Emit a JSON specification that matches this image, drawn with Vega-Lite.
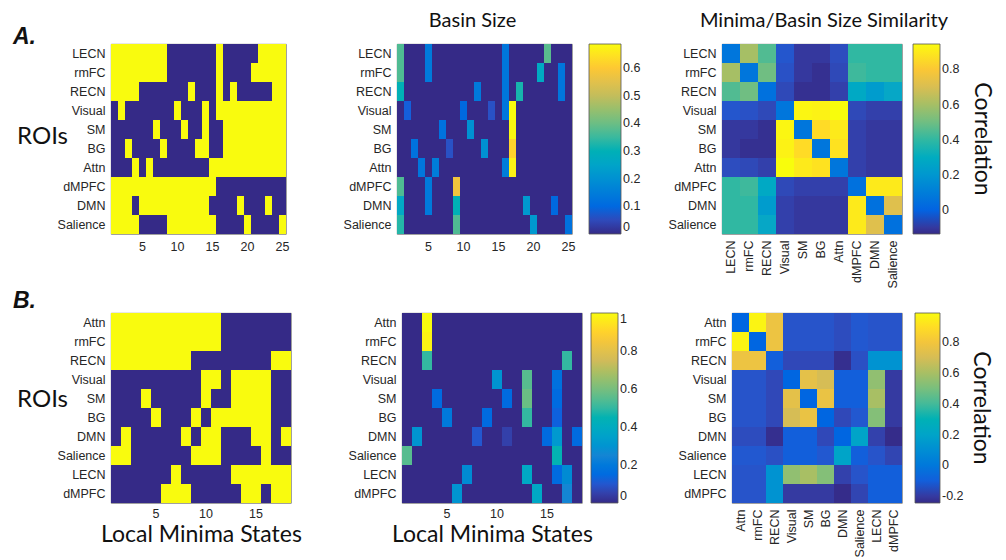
{
"$schema": "https://vega.github.io/schema/vega-lite/v6.json",
"background": "white",
"padding": {"left": 12, "top": 10, "right": 14, "bottom": 0},
"config": {
  "font": "Liberation Sans",
  "locale": {"number": {"decimal": ".", "thousands": ",", "grouping": [3], "currency": ["$", ""], "minus": "-"}},
  "view": {"stroke": "#6a6a6a", "strokeWidth": 0.8},
  "axis": {"labelFont": "Liberation Sans", "labelFontSize": 12.5, "labelColor": "#262626", "ticks": false, "domain": false, "grid": false, "labelPadding": 6, "titleFont": "Lato", "titleFontWeight": "normal", "titleColor": "#111111"},
  "legend": {"labelFont": "Liberation Sans", "labelFontSize": 12.5, "labelColor": "#262626", "padding": 0, "labelOverlap": false, "gradientStrokeColor": "#555555", "gradientStrokeWidth": 0.8, "direction": "vertical", "orient": "right", "labelBaseline": "middle"},
  "title": {"font": "Lato", "fontWeight": "normal", "fontSize": 20, "color": "#111111"}
},
"spacing": 0,
"resolve": {"scale": {"color": "independent", "x": "independent", "y": "independent"}, "legend": {"color": "independent"}},
"datasets": {
"a1": [
{"r":"LECN","s":1,"v":1},{"r":"LECN","s":2,"v":1},{"r":"LECN","s":3,"v":1},{"r":"LECN","s":4,"v":1},{"r":"LECN","s":5,"v":1},{"r":"LECN","s":6,"v":1},{"r":"LECN","s":7,"v":1},{"r":"LECN","s":8,"v":1},{"r":"LECN","s":9,"v":0},{"r":"LECN","s":10,"v":0},{"r":"LECN","s":11,"v":0},{"r":"LECN","s":12,"v":0},{"r":"LECN","s":13,"v":0},{"r":"LECN","s":14,"v":0},{"r":"LECN","s":15,"v":0},{"r":"LECN","s":16,"v":1},{"r":"LECN","s":17,"v":0},{"r":"LECN","s":18,"v":0},{"r":"LECN","s":19,"v":0},{"r":"LECN","s":20,"v":0},{"r":"LECN","s":21,"v":0},{"r":"LECN","s":22,"v":1},{"r":"LECN","s":23,"v":1},{"r":"LECN","s":24,"v":1},{"r":"LECN","s":25,"v":1},
{"r":"rmFC","s":1,"v":1},{"r":"rmFC","s":2,"v":1},{"r":"rmFC","s":3,"v":1},{"r":"rmFC","s":4,"v":1},{"r":"rmFC","s":5,"v":1},{"r":"rmFC","s":6,"v":1},{"r":"rmFC","s":7,"v":1},{"r":"rmFC","s":8,"v":1},{"r":"rmFC","s":9,"v":0},{"r":"rmFC","s":10,"v":0},{"r":"rmFC","s":11,"v":0},{"r":"rmFC","s":12,"v":0},{"r":"rmFC","s":13,"v":0},{"r":"rmFC","s":14,"v":0},{"r":"rmFC","s":15,"v":0},{"r":"rmFC","s":16,"v":1},{"r":"rmFC","s":17,"v":0},{"r":"rmFC","s":18,"v":0},{"r":"rmFC","s":19,"v":0},{"r":"rmFC","s":20,"v":0},{"r":"rmFC","s":21,"v":1},{"r":"rmFC","s":22,"v":1},{"r":"rmFC","s":23,"v":1},{"r":"rmFC","s":24,"v":1},{"r":"rmFC","s":25,"v":1},
{"r":"RECN","s":1,"v":1},{"r":"RECN","s":2,"v":1},{"r":"RECN","s":3,"v":1},{"r":"RECN","s":4,"v":1},{"r":"RECN","s":5,"v":0},{"r":"RECN","s":6,"v":0},{"r":"RECN","s":7,"v":0},{"r":"RECN","s":8,"v":0},{"r":"RECN","s":9,"v":0},{"r":"RECN","s":10,"v":0},{"r":"RECN","s":11,"v":0},{"r":"RECN","s":12,"v":1},{"r":"RECN","s":13,"v":0},{"r":"RECN","s":14,"v":0},{"r":"RECN","s":15,"v":0},{"r":"RECN","s":16,"v":1},{"r":"RECN","s":17,"v":0},{"r":"RECN","s":18,"v":1},{"r":"RECN","s":19,"v":0},{"r":"RECN","s":20,"v":0},{"r":"RECN","s":21,"v":0},{"r":"RECN","s":22,"v":0},{"r":"RECN","s":23,"v":0},{"r":"RECN","s":24,"v":1},{"r":"RECN","s":25,"v":1},
{"r":"Visual","s":1,"v":0},{"r":"Visual","s":2,"v":1},{"r":"Visual","s":3,"v":0},{"r":"Visual","s":4,"v":0},{"r":"Visual","s":5,"v":0},{"r":"Visual","s":6,"v":0},{"r":"Visual","s":7,"v":0},{"r":"Visual","s":8,"v":0},{"r":"Visual","s":9,"v":0},{"r":"Visual","s":10,"v":1},{"r":"Visual","s":11,"v":0},{"r":"Visual","s":12,"v":0},{"r":"Visual","s":13,"v":0},{"r":"Visual","s":14,"v":1},{"r":"Visual","s":15,"v":0},{"r":"Visual","s":16,"v":1},{"r":"Visual","s":17,"v":1},{"r":"Visual","s":18,"v":1},{"r":"Visual","s":19,"v":1},{"r":"Visual","s":20,"v":1},{"r":"Visual","s":21,"v":1},{"r":"Visual","s":22,"v":1},{"r":"Visual","s":23,"v":1},{"r":"Visual","s":24,"v":1},{"r":"Visual","s":25,"v":1},
{"r":"SM","s":1,"v":0},{"r":"SM","s":2,"v":0},{"r":"SM","s":3,"v":0},{"r":"SM","s":4,"v":0},{"r":"SM","s":5,"v":0},{"r":"SM","s":6,"v":0},{"r":"SM","s":7,"v":1},{"r":"SM","s":8,"v":0},{"r":"SM","s":9,"v":0},{"r":"SM","s":10,"v":0},{"r":"SM","s":11,"v":1},{"r":"SM","s":12,"v":0},{"r":"SM","s":13,"v":0},{"r":"SM","s":14,"v":1},{"r":"SM","s":15,"v":0},{"r":"SM","s":16,"v":0},{"r":"SM","s":17,"v":1},{"r":"SM","s":18,"v":1},{"r":"SM","s":19,"v":1},{"r":"SM","s":20,"v":1},{"r":"SM","s":21,"v":1},{"r":"SM","s":22,"v":1},{"r":"SM","s":23,"v":1},{"r":"SM","s":24,"v":1},{"r":"SM","s":25,"v":1},
{"r":"BG","s":1,"v":0},{"r":"BG","s":2,"v":0},{"r":"BG","s":3,"v":1},{"r":"BG","s":4,"v":0},{"r":"BG","s":5,"v":0},{"r":"BG","s":6,"v":0},{"r":"BG","s":7,"v":0},{"r":"BG","s":8,"v":1},{"r":"BG","s":9,"v":0},{"r":"BG","s":10,"v":0},{"r":"BG","s":11,"v":0},{"r":"BG","s":12,"v":0},{"r":"BG","s":13,"v":1},{"r":"BG","s":14,"v":1},{"r":"BG","s":15,"v":0},{"r":"BG","s":16,"v":0},{"r":"BG","s":17,"v":1},{"r":"BG","s":18,"v":1},{"r":"BG","s":19,"v":1},{"r":"BG","s":20,"v":1},{"r":"BG","s":21,"v":1},{"r":"BG","s":22,"v":1},{"r":"BG","s":23,"v":1},{"r":"BG","s":24,"v":1},{"r":"BG","s":25,"v":1},
{"r":"Attn","s":1,"v":0},{"r":"Attn","s":2,"v":0},{"r":"Attn","s":3,"v":0},{"r":"Attn","s":4,"v":1},{"r":"Attn","s":5,"v":0},{"r":"Attn","s":6,"v":1},{"r":"Attn","s":7,"v":0},{"r":"Attn","s":8,"v":0},{"r":"Attn","s":9,"v":0},{"r":"Attn","s":10,"v":0},{"r":"Attn","s":11,"v":0},{"r":"Attn","s":12,"v":0},{"r":"Attn","s":13,"v":0},{"r":"Attn","s":14,"v":0},{"r":"Attn","s":15,"v":1},{"r":"Attn","s":16,"v":1},{"r":"Attn","s":17,"v":1},{"r":"Attn","s":18,"v":1},{"r":"Attn","s":19,"v":1},{"r":"Attn","s":20,"v":1},{"r":"Attn","s":21,"v":1},{"r":"Attn","s":22,"v":1},{"r":"Attn","s":23,"v":1},{"r":"Attn","s":24,"v":1},{"r":"Attn","s":25,"v":1},
{"r":"dMPFC","s":1,"v":1},{"r":"dMPFC","s":2,"v":1},{"r":"dMPFC","s":3,"v":1},{"r":"dMPFC","s":4,"v":1},{"r":"dMPFC","s":5,"v":1},{"r":"dMPFC","s":6,"v":1},{"r":"dMPFC","s":7,"v":1},{"r":"dMPFC","s":8,"v":1},{"r":"dMPFC","s":9,"v":1},{"r":"dMPFC","s":10,"v":1},{"r":"dMPFC","s":11,"v":1},{"r":"dMPFC","s":12,"v":1},{"r":"dMPFC","s":13,"v":1},{"r":"dMPFC","s":14,"v":1},{"r":"dMPFC","s":15,"v":1},{"r":"dMPFC","s":16,"v":0},{"r":"dMPFC","s":17,"v":0},{"r":"dMPFC","s":18,"v":0},{"r":"dMPFC","s":19,"v":0},{"r":"dMPFC","s":20,"v":0},{"r":"dMPFC","s":21,"v":0},{"r":"dMPFC","s":22,"v":0},{"r":"dMPFC","s":23,"v":0},{"r":"dMPFC","s":24,"v":0},{"r":"dMPFC","s":25,"v":0},
{"r":"DMN","s":1,"v":1},{"r":"DMN","s":2,"v":1},{"r":"DMN","s":3,"v":1},{"r":"DMN","s":4,"v":0},{"r":"DMN","s":5,"v":1},{"r":"DMN","s":6,"v":1},{"r":"DMN","s":7,"v":1},{"r":"DMN","s":8,"v":1},{"r":"DMN","s":9,"v":1},{"r":"DMN","s":10,"v":1},{"r":"DMN","s":11,"v":1},{"r":"DMN","s":12,"v":1},{"r":"DMN","s":13,"v":1},{"r":"DMN","s":14,"v":1},{"r":"DMN","s":15,"v":0},{"r":"DMN","s":16,"v":0},{"r":"DMN","s":17,"v":0},{"r":"DMN","s":18,"v":0},{"r":"DMN","s":19,"v":1},{"r":"DMN","s":20,"v":0},{"r":"DMN","s":21,"v":0},{"r":"DMN","s":22,"v":0},{"r":"DMN","s":23,"v":1},{"r":"DMN","s":24,"v":0},{"r":"DMN","s":25,"v":0},
{"r":"Salience","s":1,"v":1},{"r":"Salience","s":2,"v":1},{"r":"Salience","s":3,"v":1},{"r":"Salience","s":4,"v":1},{"r":"Salience","s":5,"v":0},{"r":"Salience","s":6,"v":0},{"r":"Salience","s":7,"v":0},{"r":"Salience","s":8,"v":0},{"r":"Salience","s":9,"v":1},{"r":"Salience","s":10,"v":1},{"r":"Salience","s":11,"v":1},{"r":"Salience","s":12,"v":1},{"r":"Salience","s":13,"v":1},{"r":"Salience","s":14,"v":1},{"r":"Salience","s":15,"v":1},{"r":"Salience","s":16,"v":0},{"r":"Salience","s":17,"v":0},{"r":"Salience","s":18,"v":0},{"r":"Salience","s":19,"v":0},{"r":"Salience","s":20,"v":1},{"r":"Salience","s":21,"v":0},{"r":"Salience","s":22,"v":0},{"r":"Salience","s":23,"v":0},{"r":"Salience","s":24,"v":0},{"r":"Salience","s":25,"v":1}
],
"a2": [
{"r":"LECN","s":1,"v":0.37},{"r":"LECN","s":2,"v":0},{"r":"LECN","s":3,"v":0},{"r":"LECN","s":4,"v":0},{"r":"LECN","s":5,"v":0.14},{"r":"LECN","s":6,"v":0},{"r":"LECN","s":7,"v":0},{"r":"LECN","s":8,"v":0},{"r":"LECN","s":9,"v":0},{"r":"LECN","s":10,"v":0},{"r":"LECN","s":11,"v":0},{"r":"LECN","s":12,"v":0},{"r":"LECN","s":13,"v":0},{"r":"LECN","s":14,"v":0},{"r":"LECN","s":15,"v":0},{"r":"LECN","s":16,"v":0.13},{"r":"LECN","s":17,"v":0},{"r":"LECN","s":18,"v":0},{"r":"LECN","s":19,"v":0},{"r":"LECN","s":20,"v":0},{"r":"LECN","s":21,"v":0},{"r":"LECN","s":22,"v":0.38},{"r":"LECN","s":23,"v":0},{"r":"LECN","s":24,"v":0},{"r":"LECN","s":25,"v":0},
{"r":"rmFC","s":1,"v":0.37},{"r":"rmFC","s":2,"v":0},{"r":"rmFC","s":3,"v":0},{"r":"rmFC","s":4,"v":0},{"r":"rmFC","s":5,"v":0.14},{"r":"rmFC","s":6,"v":0},{"r":"rmFC","s":7,"v":0},{"r":"rmFC","s":8,"v":0},{"r":"rmFC","s":9,"v":0},{"r":"rmFC","s":10,"v":0},{"r":"rmFC","s":11,"v":0},{"r":"rmFC","s":12,"v":0},{"r":"rmFC","s":13,"v":0},{"r":"rmFC","s":14,"v":0},{"r":"rmFC","s":15,"v":0},{"r":"rmFC","s":16,"v":0.13},{"r":"rmFC","s":17,"v":0},{"r":"rmFC","s":18,"v":0},{"r":"rmFC","s":19,"v":0},{"r":"rmFC","s":20,"v":0},{"r":"rmFC","s":21,"v":0.27},{"r":"rmFC","s":22,"v":0},{"r":"rmFC","s":23,"v":0},{"r":"rmFC","s":24,"v":0.13},{"r":"rmFC","s":25,"v":0},
{"r":"RECN","s":1,"v":0.3},{"r":"RECN","s":2,"v":0},{"r":"RECN","s":3,"v":0},{"r":"RECN","s":4,"v":0},{"r":"RECN","s":5,"v":0},{"r":"RECN","s":6,"v":0},{"r":"RECN","s":7,"v":0},{"r":"RECN","s":8,"v":0},{"r":"RECN","s":9,"v":0},{"r":"RECN","s":10,"v":0},{"r":"RECN","s":11,"v":0},{"r":"RECN","s":12,"v":0.14},{"r":"RECN","s":13,"v":0},{"r":"RECN","s":14,"v":0},{"r":"RECN","s":15,"v":0},{"r":"RECN","s":16,"v":0.13},{"r":"RECN","s":17,"v":0},{"r":"RECN","s":18,"v":0.32},{"r":"RECN","s":19,"v":0},{"r":"RECN","s":20,"v":0},{"r":"RECN","s":21,"v":0},{"r":"RECN","s":22,"v":0},{"r":"RECN","s":23,"v":0},{"r":"RECN","s":24,"v":0.13},{"r":"RECN","s":25,"v":0},
{"r":"Visual","s":1,"v":0},{"r":"Visual","s":2,"v":0.08},{"r":"Visual","s":3,"v":0},{"r":"Visual","s":4,"v":0},{"r":"Visual","s":5,"v":0},{"r":"Visual","s":6,"v":0},{"r":"Visual","s":7,"v":0},{"r":"Visual","s":8,"v":0},{"r":"Visual","s":9,"v":0},{"r":"Visual","s":10,"v":0.1},{"r":"Visual","s":11,"v":0},{"r":"Visual","s":12,"v":0},{"r":"Visual","s":13,"v":0},{"r":"Visual","s":14,"v":0.06},{"r":"Visual","s":15,"v":0},{"r":"Visual","s":16,"v":0.13},{"r":"Visual","s":17,"v":0.687},{"r":"Visual","s":18,"v":0},{"r":"Visual","s":19,"v":0},{"r":"Visual","s":20,"v":0},{"r":"Visual","s":21,"v":0},{"r":"Visual","s":22,"v":0},{"r":"Visual","s":23,"v":0},{"r":"Visual","s":24,"v":0},{"r":"Visual","s":25,"v":0},
{"r":"SM","s":1,"v":0},{"r":"SM","s":2,"v":0},{"r":"SM","s":3,"v":0},{"r":"SM","s":4,"v":0},{"r":"SM","s":5,"v":0},{"r":"SM","s":6,"v":0},{"r":"SM","s":7,"v":0.12},{"r":"SM","s":8,"v":0},{"r":"SM","s":9,"v":0},{"r":"SM","s":10,"v":0},{"r":"SM","s":11,"v":0.2},{"r":"SM","s":12,"v":0},{"r":"SM","s":13,"v":0},{"r":"SM","s":14,"v":0},{"r":"SM","s":15,"v":0},{"r":"SM","s":16,"v":0},{"r":"SM","s":17,"v":0.68},{"r":"SM","s":18,"v":0},{"r":"SM","s":19,"v":0},{"r":"SM","s":20,"v":0},{"r":"SM","s":21,"v":0},{"r":"SM","s":22,"v":0},{"r":"SM","s":23,"v":0},{"r":"SM","s":24,"v":0},{"r":"SM","s":25,"v":0},
{"r":"BG","s":1,"v":0},{"r":"BG","s":2,"v":0},{"r":"BG","s":3,"v":0.12},{"r":"BG","s":4,"v":0},{"r":"BG","s":5,"v":0},{"r":"BG","s":6,"v":0},{"r":"BG","s":7,"v":0},{"r":"BG","s":8,"v":0.06},{"r":"BG","s":9,"v":0},{"r":"BG","s":10,"v":0},{"r":"BG","s":11,"v":0},{"r":"BG","s":12,"v":0},{"r":"BG","s":13,"v":0.2},{"r":"BG","s":14,"v":0},{"r":"BG","s":15,"v":0},{"r":"BG","s":16,"v":0},{"r":"BG","s":17,"v":0.62},{"r":"BG","s":18,"v":0},{"r":"BG","s":19,"v":0},{"r":"BG","s":20,"v":0},{"r":"BG","s":21,"v":0},{"r":"BG","s":22,"v":0},{"r":"BG","s":23,"v":0},{"r":"BG","s":24,"v":0},{"r":"BG","s":25,"v":0},
{"r":"Attn","s":1,"v":0},{"r":"Attn","s":2,"v":0},{"r":"Attn","s":3,"v":0},{"r":"Attn","s":4,"v":0.13},{"r":"Attn","s":5,"v":0},{"r":"Attn","s":6,"v":0.15},{"r":"Attn","s":7,"v":0},{"r":"Attn","s":8,"v":0},{"r":"Attn","s":9,"v":0},{"r":"Attn","s":10,"v":0},{"r":"Attn","s":11,"v":0},{"r":"Attn","s":12,"v":0},{"r":"Attn","s":13,"v":0},{"r":"Attn","s":14,"v":0},{"r":"Attn","s":15,"v":0},{"r":"Attn","s":16,"v":0.15},{"r":"Attn","s":17,"v":0.67},{"r":"Attn","s":18,"v":0},{"r":"Attn","s":19,"v":0},{"r":"Attn","s":20,"v":0},{"r":"Attn","s":21,"v":0},{"r":"Attn","s":22,"v":0},{"r":"Attn","s":23,"v":0},{"r":"Attn","s":24,"v":0},{"r":"Attn","s":25,"v":0},
{"r":"dMPFC","s":1,"v":0.37},{"r":"dMPFC","s":2,"v":0},{"r":"dMPFC","s":3,"v":0},{"r":"dMPFC","s":4,"v":0},{"r":"dMPFC","s":5,"v":0.14},{"r":"dMPFC","s":6,"v":0},{"r":"dMPFC","s":7,"v":0},{"r":"dMPFC","s":8,"v":0},{"r":"dMPFC","s":9,"v":0.58},{"r":"dMPFC","s":10,"v":0},{"r":"dMPFC","s":11,"v":0},{"r":"dMPFC","s":12,"v":0},{"r":"dMPFC","s":13,"v":0},{"r":"dMPFC","s":14,"v":0},{"r":"dMPFC","s":15,"v":0},{"r":"dMPFC","s":16,"v":0},{"r":"dMPFC","s":17,"v":0},{"r":"dMPFC","s":18,"v":0},{"r":"dMPFC","s":19,"v":0},{"r":"dMPFC","s":20,"v":0},{"r":"dMPFC","s":21,"v":0},{"r":"dMPFC","s":22,"v":0},{"r":"dMPFC","s":23,"v":0},{"r":"dMPFC","s":24,"v":0},{"r":"dMPFC","s":25,"v":0},
{"r":"DMN","s":1,"v":0.26},{"r":"DMN","s":2,"v":0},{"r":"DMN","s":3,"v":0},{"r":"DMN","s":4,"v":0},{"r":"DMN","s":5,"v":0.14},{"r":"DMN","s":6,"v":0},{"r":"DMN","s":7,"v":0},{"r":"DMN","s":8,"v":0},{"r":"DMN","s":9,"v":0.3},{"r":"DMN","s":10,"v":0},{"r":"DMN","s":11,"v":0},{"r":"DMN","s":12,"v":0},{"r":"DMN","s":13,"v":0},{"r":"DMN","s":14,"v":0},{"r":"DMN","s":15,"v":0},{"r":"DMN","s":16,"v":0},{"r":"DMN","s":17,"v":0},{"r":"DMN","s":18,"v":0},{"r":"DMN","s":19,"v":0.22},{"r":"DMN","s":20,"v":0},{"r":"DMN","s":21,"v":0},{"r":"DMN","s":22,"v":0},{"r":"DMN","s":23,"v":0.1},{"r":"DMN","s":24,"v":0},{"r":"DMN","s":25,"v":0},
{"r":"Salience","s":1,"v":0.33},{"r":"Salience","s":2,"v":0},{"r":"Salience","s":3,"v":0},{"r":"Salience","s":4,"v":0},{"r":"Salience","s":5,"v":0},{"r":"Salience","s":6,"v":0},{"r":"Salience","s":7,"v":0},{"r":"Salience","s":8,"v":0},{"r":"Salience","s":9,"v":0.37},{"r":"Salience","s":10,"v":0},{"r":"Salience","s":11,"v":0},{"r":"Salience","s":12,"v":0},{"r":"Salience","s":13,"v":0},{"r":"Salience","s":14,"v":0},{"r":"Salience","s":15,"v":0},{"r":"Salience","s":16,"v":0},{"r":"Salience","s":17,"v":0},{"r":"Salience","s":18,"v":0},{"r":"Salience","s":19,"v":0},{"r":"Salience","s":20,"v":0.22},{"r":"Salience","s":21,"v":0},{"r":"Salience","s":22,"v":0},{"r":"Salience","s":23,"v":0},{"r":"Salience","s":24,"v":0},{"r":"Salience","s":25,"v":0.12}
],
"a3": [
{"r":"LECN","c":"LECN","v":0.07},{"r":"LECN","c":"rmFC","v":0.6},{"r":"LECN","c":"RECN","v":0.45},{"r":"LECN","c":"Visual","v":-0.03},{"r":"LECN","c":"SM","v":-0.1},{"r":"LECN","c":"BG","v":-0.1},{"r":"LECN","c":"Attn","v":-0.05},{"r":"LECN","c":"dMPFC","v":0.4},{"r":"LECN","c":"DMN","v":0.4},{"r":"LECN","c":"Salience","v":0.4},
{"r":"rmFC","c":"LECN","v":0.6},{"r":"rmFC","c":"rmFC","v":0.07},{"r":"rmFC","c":"RECN","v":0.5},{"r":"rmFC","c":"Visual","v":-0.04},{"r":"rmFC","c":"SM","v":-0.1},{"r":"rmFC","c":"BG","v":-0.12},{"r":"rmFC","c":"Attn","v":-0.06},{"r":"rmFC","c":"dMPFC","v":0.42},{"r":"rmFC","c":"DMN","v":0.4},{"r":"rmFC","c":"Salience","v":0.4},
{"r":"RECN","c":"LECN","v":0.45},{"r":"RECN","c":"rmFC","v":0.5},{"r":"RECN","c":"RECN","v":0.05},{"r":"RECN","c":"Visual","v":-0.06},{"r":"RECN","c":"SM","v":-0.12},{"r":"RECN","c":"BG","v":-0.12},{"r":"RECN","c":"Attn","v":-0.08},{"r":"RECN","c":"dMPFC","v":0.28},{"r":"RECN","c":"DMN","v":0.22},{"r":"RECN","c":"Salience","v":0.27},
{"r":"Visual","c":"LECN","v":-0.03},{"r":"Visual","c":"rmFC","v":-0.04},{"r":"Visual","c":"RECN","v":-0.06},{"r":"Visual","c":"Visual","v":0.07},{"r":"Visual","c":"SM","v":0.93},{"r":"Visual","c":"BG","v":0.92},{"r":"Visual","c":"Attn","v":0.95},{"r":"Visual","c":"dMPFC","v":-0.06},{"r":"Visual","c":"DMN","v":-0.08},{"r":"Visual","c":"Salience","v":-0.08},
{"r":"SM","c":"LECN","v":-0.1},{"r":"SM","c":"rmFC","v":-0.1},{"r":"SM","c":"RECN","v":-0.12},{"r":"SM","c":"Visual","v":0.93},{"r":"SM","c":"SM","v":0.07},{"r":"SM","c":"BG","v":0.86},{"r":"SM","c":"Attn","v":0.9},{"r":"SM","c":"dMPFC","v":-0.08},{"r":"SM","c":"DMN","v":-0.1},{"r":"SM","c":"Salience","v":-0.1},
{"r":"BG","c":"LECN","v":-0.1},{"r":"BG","c":"rmFC","v":-0.12},{"r":"BG","c":"RECN","v":-0.12},{"r":"BG","c":"Visual","v":0.92},{"r":"BG","c":"SM","v":0.86},{"r":"BG","c":"BG","v":0.07},{"r":"BG","c":"Attn","v":0.88},{"r":"BG","c":"dMPFC","v":-0.08},{"r":"BG","c":"DMN","v":-0.1},{"r":"BG","c":"Salience","v":-0.1},
{"r":"Attn","c":"LECN","v":-0.05},{"r":"Attn","c":"rmFC","v":-0.06},{"r":"Attn","c":"RECN","v":-0.08},{"r":"Attn","c":"Visual","v":0.95},{"r":"Attn","c":"SM","v":0.9},{"r":"Attn","c":"BG","v":0.88},{"r":"Attn","c":"Attn","v":0.07},{"r":"Attn","c":"dMPFC","v":-0.08},{"r":"Attn","c":"DMN","v":-0.1},{"r":"Attn","c":"Salience","v":-0.1},
{"r":"dMPFC","c":"LECN","v":0.4},{"r":"dMPFC","c":"rmFC","v":0.42},{"r":"dMPFC","c":"RECN","v":0.28},{"r":"dMPFC","c":"Visual","v":-0.06},{"r":"dMPFC","c":"SM","v":-0.08},{"r":"dMPFC","c":"BG","v":-0.08},{"r":"dMPFC","c":"Attn","v":-0.08},{"r":"dMPFC","c":"dMPFC","v":0.05},{"r":"dMPFC","c":"DMN","v":0.9},{"r":"dMPFC","c":"Salience","v":0.9},
{"r":"DMN","c":"LECN","v":0.4},{"r":"DMN","c":"rmFC","v":0.4},{"r":"DMN","c":"RECN","v":0.22},{"r":"DMN","c":"Visual","v":-0.08},{"r":"DMN","c":"SM","v":-0.1},{"r":"DMN","c":"BG","v":-0.1},{"r":"DMN","c":"Attn","v":-0.1},{"r":"DMN","c":"dMPFC","v":0.9},{"r":"DMN","c":"DMN","v":0.05},{"r":"DMN","c":"Salience","v":0.72},
{"r":"Salience","c":"LECN","v":0.4},{"r":"Salience","c":"rmFC","v":0.4},{"r":"Salience","c":"RECN","v":0.27},{"r":"Salience","c":"Visual","v":-0.08},{"r":"Salience","c":"SM","v":-0.1},{"r":"Salience","c":"BG","v":-0.1},{"r":"Salience","c":"Attn","v":-0.1},{"r":"Salience","c":"dMPFC","v":0.9},{"r":"Salience","c":"DMN","v":0.72},{"r":"Salience","c":"Salience","v":0.05}
],
"b1": [
{"r":"Attn","s":1,"v":1},{"r":"Attn","s":2,"v":1},{"r":"Attn","s":3,"v":1},{"r":"Attn","s":4,"v":1},{"r":"Attn","s":5,"v":1},{"r":"Attn","s":6,"v":1},{"r":"Attn","s":7,"v":1},{"r":"Attn","s":8,"v":1},{"r":"Attn","s":9,"v":1},{"r":"Attn","s":10,"v":1},{"r":"Attn","s":11,"v":1},{"r":"Attn","s":12,"v":0},{"r":"Attn","s":13,"v":0},{"r":"Attn","s":14,"v":0},{"r":"Attn","s":15,"v":0},{"r":"Attn","s":16,"v":0},{"r":"Attn","s":17,"v":0},{"r":"Attn","s":18,"v":0},
{"r":"rmFC","s":1,"v":1},{"r":"rmFC","s":2,"v":1},{"r":"rmFC","s":3,"v":1},{"r":"rmFC","s":4,"v":1},{"r":"rmFC","s":5,"v":1},{"r":"rmFC","s":6,"v":1},{"r":"rmFC","s":7,"v":1},{"r":"rmFC","s":8,"v":1},{"r":"rmFC","s":9,"v":1},{"r":"rmFC","s":10,"v":1},{"r":"rmFC","s":11,"v":1},{"r":"rmFC","s":12,"v":0},{"r":"rmFC","s":13,"v":0},{"r":"rmFC","s":14,"v":0},{"r":"rmFC","s":15,"v":0},{"r":"rmFC","s":16,"v":0},{"r":"rmFC","s":17,"v":0},{"r":"rmFC","s":18,"v":0},
{"r":"RECN","s":1,"v":1},{"r":"RECN","s":2,"v":1},{"r":"RECN","s":3,"v":1},{"r":"RECN","s":4,"v":1},{"r":"RECN","s":5,"v":1},{"r":"RECN","s":6,"v":1},{"r":"RECN","s":7,"v":1},{"r":"RECN","s":8,"v":1},{"r":"RECN","s":9,"v":0},{"r":"RECN","s":10,"v":0},{"r":"RECN","s":11,"v":0},{"r":"RECN","s":12,"v":0},{"r":"RECN","s":13,"v":0},{"r":"RECN","s":14,"v":0},{"r":"RECN","s":15,"v":0},{"r":"RECN","s":16,"v":0},{"r":"RECN","s":17,"v":1},{"r":"RECN","s":18,"v":1},
{"r":"Visual","s":1,"v":0},{"r":"Visual","s":2,"v":0},{"r":"Visual","s":3,"v":0},{"r":"Visual","s":4,"v":0},{"r":"Visual","s":5,"v":0},{"r":"Visual","s":6,"v":0},{"r":"Visual","s":7,"v":0},{"r":"Visual","s":8,"v":0},{"r":"Visual","s":9,"v":0},{"r":"Visual","s":10,"v":1},{"r":"Visual","s":11,"v":1},{"r":"Visual","s":12,"v":0},{"r":"Visual","s":13,"v":1},{"r":"Visual","s":14,"v":1},{"r":"Visual","s":15,"v":1},{"r":"Visual","s":16,"v":1},{"r":"Visual","s":17,"v":0},{"r":"Visual","s":18,"v":0},
{"r":"SM","s":1,"v":0},{"r":"SM","s":2,"v":0},{"r":"SM","s":3,"v":0},{"r":"SM","s":4,"v":1},{"r":"SM","s":5,"v":0},{"r":"SM","s":6,"v":0},{"r":"SM","s":7,"v":0},{"r":"SM","s":8,"v":0},{"r":"SM","s":9,"v":0},{"r":"SM","s":10,"v":1},{"r":"SM","s":11,"v":0},{"r":"SM","s":12,"v":0},{"r":"SM","s":13,"v":1},{"r":"SM","s":14,"v":1},{"r":"SM","s":15,"v":1},{"r":"SM","s":16,"v":1},{"r":"SM","s":17,"v":0},{"r":"SM","s":18,"v":0},
{"r":"BG","s":1,"v":0},{"r":"BG","s":2,"v":0},{"r":"BG","s":3,"v":0},{"r":"BG","s":4,"v":0},{"r":"BG","s":5,"v":1},{"r":"BG","s":6,"v":0},{"r":"BG","s":7,"v":0},{"r":"BG","s":8,"v":0},{"r":"BG","s":9,"v":1},{"r":"BG","s":10,"v":0},{"r":"BG","s":11,"v":1},{"r":"BG","s":12,"v":1},{"r":"BG","s":13,"v":1},{"r":"BG","s":14,"v":1},{"r":"BG","s":15,"v":1},{"r":"BG","s":16,"v":1},{"r":"BG","s":17,"v":0},{"r":"BG","s":18,"v":0},
{"r":"DMN","s":1,"v":0},{"r":"DMN","s":2,"v":1},{"r":"DMN","s":3,"v":0},{"r":"DMN","s":4,"v":0},{"r":"DMN","s":5,"v":0},{"r":"DMN","s":6,"v":0},{"r":"DMN","s":7,"v":0},{"r":"DMN","s":8,"v":1},{"r":"DMN","s":9,"v":0},{"r":"DMN","s":10,"v":1},{"r":"DMN","s":11,"v":1},{"r":"DMN","s":12,"v":0},{"r":"DMN","s":13,"v":0},{"r":"DMN","s":14,"v":0},{"r":"DMN","s":15,"v":1},{"r":"DMN","s":16,"v":1},{"r":"DMN","s":17,"v":0},{"r":"DMN","s":18,"v":1},
{"r":"Salience","s":1,"v":1},{"r":"Salience","s":2,"v":1},{"r":"Salience","s":3,"v":0},{"r":"Salience","s":4,"v":0},{"r":"Salience","s":5,"v":0},{"r":"Salience","s":6,"v":0},{"r":"Salience","s":7,"v":0},{"r":"Salience","s":8,"v":0},{"r":"Salience","s":9,"v":1},{"r":"Salience","s":10,"v":1},{"r":"Salience","s":11,"v":1},{"r":"Salience","s":12,"v":0},{"r":"Salience","s":13,"v":0},{"r":"Salience","s":14,"v":0},{"r":"Salience","s":15,"v":0},{"r":"Salience","s":16,"v":1},{"r":"Salience","s":17,"v":0},{"r":"Salience","s":18,"v":0},
{"r":"LECN","s":1,"v":0},{"r":"LECN","s":2,"v":0},{"r":"LECN","s":3,"v":0},{"r":"LECN","s":4,"v":0},{"r":"LECN","s":5,"v":0},{"r":"LECN","s":6,"v":0},{"r":"LECN","s":7,"v":1},{"r":"LECN","s":8,"v":0},{"r":"LECN","s":9,"v":0},{"r":"LECN","s":10,"v":0},{"r":"LECN","s":11,"v":0},{"r":"LECN","s":12,"v":0},{"r":"LECN","s":13,"v":1},{"r":"LECN","s":14,"v":1},{"r":"LECN","s":15,"v":1},{"r":"LECN","s":16,"v":1},{"r":"LECN","s":17,"v":1},{"r":"LECN","s":18,"v":1},
{"r":"dMPFC","s":1,"v":0},{"r":"dMPFC","s":2,"v":0},{"r":"dMPFC","s":3,"v":0},{"r":"dMPFC","s":4,"v":0},{"r":"dMPFC","s":5,"v":0},{"r":"dMPFC","s":6,"v":1},{"r":"dMPFC","s":7,"v":1},{"r":"dMPFC","s":8,"v":1},{"r":"dMPFC","s":9,"v":0},{"r":"dMPFC","s":10,"v":0},{"r":"dMPFC","s":11,"v":0},{"r":"dMPFC","s":12,"v":0},{"r":"dMPFC","s":13,"v":0},{"r":"dMPFC","s":14,"v":1},{"r":"dMPFC","s":15,"v":1},{"r":"dMPFC","s":16,"v":0},{"r":"dMPFC","s":17,"v":1},{"r":"dMPFC","s":18,"v":1}
],
"b2": [
{"r":"Attn","s":1,"v":0},{"r":"Attn","s":2,"v":0},{"r":"Attn","s":3,"v":1},{"r":"Attn","s":4,"v":0},{"r":"Attn","s":5,"v":0},{"r":"Attn","s":6,"v":0},{"r":"Attn","s":7,"v":0},{"r":"Attn","s":8,"v":0},{"r":"Attn","s":9,"v":0},{"r":"Attn","s":10,"v":0},{"r":"Attn","s":11,"v":0},{"r":"Attn","s":12,"v":0},{"r":"Attn","s":13,"v":0},{"r":"Attn","s":14,"v":0},{"r":"Attn","s":15,"v":0},{"r":"Attn","s":16,"v":0},{"r":"Attn","s":17,"v":0},{"r":"Attn","s":18,"v":0},
{"r":"rmFC","s":1,"v":0},{"r":"rmFC","s":2,"v":0},{"r":"rmFC","s":3,"v":0.98},{"r":"rmFC","s":4,"v":0},{"r":"rmFC","s":5,"v":0},{"r":"rmFC","s":6,"v":0},{"r":"rmFC","s":7,"v":0},{"r":"rmFC","s":8,"v":0},{"r":"rmFC","s":9,"v":0},{"r":"rmFC","s":10,"v":0},{"r":"rmFC","s":11,"v":0},{"r":"rmFC","s":12,"v":0},{"r":"rmFC","s":13,"v":0},{"r":"rmFC","s":14,"v":0},{"r":"rmFC","s":15,"v":0},{"r":"rmFC","s":16,"v":0},{"r":"rmFC","s":17,"v":0},{"r":"rmFC","s":18,"v":0},
{"r":"RECN","s":1,"v":0},{"r":"RECN","s":2,"v":0},{"r":"RECN","s":3,"v":0.5},{"r":"RECN","s":4,"v":0},{"r":"RECN","s":5,"v":0},{"r":"RECN","s":6,"v":0},{"r":"RECN","s":7,"v":0},{"r":"RECN","s":8,"v":0},{"r":"RECN","s":9,"v":0},{"r":"RECN","s":10,"v":0},{"r":"RECN","s":11,"v":0},{"r":"RECN","s":12,"v":0},{"r":"RECN","s":13,"v":0},{"r":"RECN","s":14,"v":0},{"r":"RECN","s":15,"v":0},{"r":"RECN","s":16,"v":0},{"r":"RECN","s":17,"v":0.5},{"r":"RECN","s":18,"v":0},
{"r":"Visual","s":1,"v":0},{"r":"Visual","s":2,"v":0},{"r":"Visual","s":3,"v":0},{"r":"Visual","s":4,"v":0},{"r":"Visual","s":5,"v":0},{"r":"Visual","s":6,"v":0},{"r":"Visual","s":7,"v":0},{"r":"Visual","s":8,"v":0},{"r":"Visual","s":9,"v":0},{"r":"Visual","s":10,"v":0.3},{"r":"Visual","s":11,"v":0},{"r":"Visual","s":12,"v":0},{"r":"Visual","s":13,"v":0.55},{"r":"Visual","s":14,"v":0},{"r":"Visual","s":15,"v":0},{"r":"Visual","s":16,"v":0.17},{"r":"Visual","s":17,"v":0},{"r":"Visual","s":18,"v":0},
{"r":"SM","s":1,"v":0},{"r":"SM","s":2,"v":0},{"r":"SM","s":3,"v":0},{"r":"SM","s":4,"v":0.15},{"r":"SM","s":5,"v":0},{"r":"SM","s":6,"v":0},{"r":"SM","s":7,"v":0},{"r":"SM","s":8,"v":0},{"r":"SM","s":9,"v":0},{"r":"SM","s":10,"v":0},{"r":"SM","s":11,"v":0.15},{"r":"SM","s":12,"v":0},{"r":"SM","s":13,"v":0.58},{"r":"SM","s":14,"v":0},{"r":"SM","s":15,"v":0},{"r":"SM","s":16,"v":0.15},{"r":"SM","s":17,"v":0},{"r":"SM","s":18,"v":0},
{"r":"BG","s":1,"v":0},{"r":"BG","s":2,"v":0},{"r":"BG","s":3,"v":0},{"r":"BG","s":4,"v":0},{"r":"BG","s":5,"v":0.2},{"r":"BG","s":6,"v":0},{"r":"BG","s":7,"v":0},{"r":"BG","s":8,"v":0},{"r":"BG","s":9,"v":0.15},{"r":"BG","s":10,"v":0},{"r":"BG","s":11,"v":0},{"r":"BG","s":12,"v":0},{"r":"BG","s":13,"v":0.5},{"r":"BG","s":14,"v":0},{"r":"BG","s":15,"v":0},{"r":"BG","s":16,"v":0.12},{"r":"BG","s":17,"v":0},{"r":"BG","s":18,"v":0},
{"r":"DMN","s":1,"v":0},{"r":"DMN","s":2,"v":0.3},{"r":"DMN","s":3,"v":0},{"r":"DMN","s":4,"v":0},{"r":"DMN","s":5,"v":0},{"r":"DMN","s":6,"v":0},{"r":"DMN","s":7,"v":0},{"r":"DMN","s":8,"v":0.1},{"r":"DMN","s":9,"v":0},{"r":"DMN","s":10,"v":0},{"r":"DMN","s":11,"v":0.05},{"r":"DMN","s":12,"v":0},{"r":"DMN","s":13,"v":0},{"r":"DMN","s":14,"v":0},{"r":"DMN","s":15,"v":0.15},{"r":"DMN","s":16,"v":0.32},{"r":"DMN","s":17,"v":0},{"r":"DMN","s":18,"v":0.15},
{"r":"Salience","s":1,"v":0.55},{"r":"Salience","s":2,"v":0},{"r":"Salience","s":3,"v":0},{"r":"Salience","s":4,"v":0},{"r":"Salience","s":5,"v":0},{"r":"Salience","s":6,"v":0},{"r":"Salience","s":7,"v":0},{"r":"Salience","s":8,"v":0},{"r":"Salience","s":9,"v":0},{"r":"Salience","s":10,"v":0},{"r":"Salience","s":11,"v":0},{"r":"Salience","s":12,"v":0},{"r":"Salience","s":13,"v":0},{"r":"Salience","s":14,"v":0},{"r":"Salience","s":15,"v":0},{"r":"Salience","s":16,"v":0.45},{"r":"Salience","s":17,"v":0},{"r":"Salience","s":18,"v":0},
{"r":"LECN","s":1,"v":0},{"r":"LECN","s":2,"v":0},{"r":"LECN","s":3,"v":0},{"r":"LECN","s":4,"v":0},{"r":"LECN","s":5,"v":0},{"r":"LECN","s":6,"v":0},{"r":"LECN","s":7,"v":0.27},{"r":"LECN","s":8,"v":0},{"r":"LECN","s":9,"v":0},{"r":"LECN","s":10,"v":0},{"r":"LECN","s":11,"v":0},{"r":"LECN","s":12,"v":0},{"r":"LECN","s":13,"v":0.38},{"r":"LECN","s":14,"v":0},{"r":"LECN","s":15,"v":0},{"r":"LECN","s":16,"v":0.15},{"r":"LECN","s":17,"v":0.27},{"r":"LECN","s":18,"v":0},
{"r":"dMPFC","s":1,"v":0},{"r":"dMPFC","s":2,"v":0},{"r":"dMPFC","s":3,"v":0},{"r":"dMPFC","s":4,"v":0},{"r":"dMPFC","s":5,"v":0},{"r":"dMPFC","s":6,"v":0.3},{"r":"dMPFC","s":7,"v":0},{"r":"dMPFC","s":8,"v":0},{"r":"dMPFC","s":9,"v":0},{"r":"dMPFC","s":10,"v":0},{"r":"dMPFC","s":11,"v":0},{"r":"dMPFC","s":12,"v":0},{"r":"dMPFC","s":13,"v":0},{"r":"dMPFC","s":14,"v":0.38},{"r":"dMPFC","s":15,"v":0},{"r":"dMPFC","s":16,"v":0},{"r":"dMPFC","s":17,"v":0.25},{"r":"dMPFC","s":18,"v":0}
],
"b3": [
{"r":"Attn","c":"Attn","v":-0.08},{"r":"Attn","c":"rmFC","v":0.97},{"r":"Attn","c":"RECN","v":0.78},{"r":"Attn","c":"Visual","v":-0.13},{"r":"Attn","c":"SM","v":-0.13},{"r":"Attn","c":"BG","v":-0.13},{"r":"Attn","c":"DMN","v":-0.15},{"r":"Attn","c":"Salience","v":-0.12},{"r":"Attn","c":"LECN","v":-0.13},{"r":"Attn","c":"dMPFC","v":-0.13},
{"r":"rmFC","c":"Attn","v":0.97},{"r":"rmFC","c":"rmFC","v":-0.08},{"r":"rmFC","c":"RECN","v":0.78},{"r":"rmFC","c":"Visual","v":-0.13},{"r":"rmFC","c":"SM","v":-0.13},{"r":"rmFC","c":"BG","v":-0.13},{"r":"rmFC","c":"DMN","v":-0.15},{"r":"rmFC","c":"Salience","v":-0.12},{"r":"rmFC","c":"LECN","v":-0.13},{"r":"rmFC","c":"dMPFC","v":-0.13},
{"r":"RECN","c":"Attn","v":0.78},{"r":"RECN","c":"rmFC","v":0.78},{"r":"RECN","c":"RECN","v":-0.1},{"r":"RECN","c":"Visual","v":-0.16},{"r":"RECN","c":"SM","v":-0.16},{"r":"RECN","c":"BG","v":-0.16},{"r":"RECN","c":"DMN","v":-0.23},{"r":"RECN","c":"Salience","v":-0.14},{"r":"RECN","c":"LECN","v":0.12},{"r":"RECN","c":"dMPFC","v":0.12},
{"r":"Visual","c":"Attn","v":-0.13},{"r":"Visual","c":"rmFC","v":-0.13},{"r":"Visual","c":"RECN","v":-0.16},{"r":"Visual","c":"Visual","v":-0.08},{"r":"Visual","c":"SM","v":0.75},{"r":"Visual","c":"BG","v":0.7},{"r":"Visual","c":"DMN","v":-0.1},{"r":"Visual","c":"Salience","v":-0.1},{"r":"Visual","c":"LECN","v":0.55},{"r":"Visual","c":"dMPFC","v":-0.2},
{"r":"SM","c":"Attn","v":-0.13},{"r":"SM","c":"rmFC","v":-0.13},{"r":"SM","c":"RECN","v":-0.16},{"r":"SM","c":"Visual","v":0.75},{"r":"SM","c":"SM","v":-0.08},{"r":"SM","c":"BG","v":0.77},{"r":"SM","c":"DMN","v":-0.1},{"r":"SM","c":"Salience","v":-0.1},{"r":"SM","c":"LECN","v":0.6},{"r":"SM","c":"dMPFC","v":-0.2},
{"r":"BG","c":"Attn","v":-0.13},{"r":"BG","c":"rmFC","v":-0.13},{"r":"BG","c":"RECN","v":-0.16},{"r":"BG","c":"Visual","v":0.7},{"r":"BG","c":"SM","v":0.77},{"r":"BG","c":"BG","v":-0.08},{"r":"BG","c":"DMN","v":-0.16},{"r":"BG","c":"Salience","v":-0.12},{"r":"BG","c":"LECN","v":0.52},{"r":"BG","c":"dMPFC","v":-0.2},
{"r":"DMN","c":"Attn","v":-0.15},{"r":"DMN","c":"rmFC","v":-0.15},{"r":"DMN","c":"RECN","v":-0.23},{"r":"DMN","c":"Visual","v":-0.1},{"r":"DMN","c":"SM","v":-0.1},{"r":"DMN","c":"BG","v":-0.16},{"r":"DMN","c":"DMN","v":-0.08},{"r":"DMN","c":"Salience","v":0.2},{"r":"DMN","c":"LECN","v":-0.18},{"r":"DMN","c":"dMPFC","v":-0.24},
{"r":"Salience","c":"Attn","v":-0.12},{"r":"Salience","c":"rmFC","v":-0.12},{"r":"Salience","c":"RECN","v":-0.14},{"r":"Salience","c":"Visual","v":-0.1},{"r":"Salience","c":"SM","v":-0.1},{"r":"Salience","c":"BG","v":-0.12},{"r":"Salience","c":"DMN","v":0.2},{"r":"Salience","c":"Salience","v":-0.1},{"r":"Salience","c":"LECN","v":-0.13},{"r":"Salience","c":"dMPFC","v":-0.17},
{"r":"LECN","c":"Attn","v":-0.13},{"r":"LECN","c":"rmFC","v":-0.13},{"r":"LECN","c":"RECN","v":0.12},{"r":"LECN","c":"Visual","v":0.55},{"r":"LECN","c":"SM","v":0.6},{"r":"LECN","c":"BG","v":0.52},{"r":"LECN","c":"DMN","v":-0.18},{"r":"LECN","c":"Salience","v":-0.13},{"r":"LECN","c":"LECN","v":-0.1},{"r":"LECN","c":"dMPFC","v":-0.1},
{"r":"dMPFC","c":"Attn","v":-0.13},{"r":"dMPFC","c":"rmFC","v":-0.13},{"r":"dMPFC","c":"RECN","v":0.12},{"r":"dMPFC","c":"Visual","v":-0.2},{"r":"dMPFC","c":"SM","v":-0.2},{"r":"dMPFC","c":"BG","v":-0.2},{"r":"dMPFC","c":"DMN","v":-0.24},{"r":"dMPFC","c":"Salience","v":-0.17},{"r":"dMPFC","c":"LECN","v":-0.1},{"r":"dMPFC","c":"dMPFC","v":-0.1}
],
"pad": [{"k": 0}]
},
"vconcat": [
{
"hconcat": [
{
  "width": 175, "height": 190,
  "data": {"name": "a1"},
  "title": {"text": "A.", "anchor": "start", "frame": "group", "dx": -98, "offset": -23, "baseline": "alphabetic", "fontSize": 23, "fontWeight": "bold", "fontStyle": "italic", "font": "Liberation Sans"},
  "mark": "rect",
  "encoding": {
    "x": {"field": "s", "type": "ordinal", "scale": {"round": true}, "axis": {"values": [5,10,15,20,25], "labelAngle": 0, "title": null}},
    "y": {"field": "r", "type": "nominal", "scale": {"round": true}, "sort": ["LECN","rmFC","RECN","Visual","SM","BG","Attn","dMPFC","DMN","Salience"], "axis": {"title": "ROIs", "titleAngle": 0, "titleX": -69, "titleY": 92, "titleAlign": "center", "titleBaseline": "middle", "titleFontSize": 24}},
    "color": {"field": "v", "type": "nominal", "scale": {"domain": [0,1], "range": ["#352A87","#F9FB0E"]}, "legend": null}
  }
},
{"width": 111, "height": 150, "data": {"name": "pad"}, "mark": {"type": "point", "opacity": 0}, "encoding": {}, "view": {"stroke": null}},
{
  "width": 175, "height": 190,
  "data": {"name": "a2"},
  "title": {"text": "Basin Size", "frame": "group", "anchor": "middle", "dx": -12, "offset": -3, "baseline": "alphabetic"},
  "mark": "rect",
  "encoding": {
    "x": {"field": "s", "type": "ordinal", "scale": {"round": true}, "axis": {"values": [5,10,15,20,25], "labelAngle": 0, "title": null}},
    "y": {"field": "r", "type": "nominal", "scale": {"round": true}, "sort": ["LECN","rmFC","RECN","Visual","SM","BG","Attn","dMPFC","DMN","Salience"], "axis": {"title": null}},
    "color": {"field": "v", "type": "quantitative",
      "scale": {"zero": false, "domain": [0,0.085875,0.17175,0.257625,0.3435,0.429375,0.51525,0.601125,0.687], "range": ["#352A87","#0363E1","#1485D4","#06A7C6","#33B8A1","#87BF77","#D1BB59","#FEC832","#F9FB0E"]},
      "legend": {"type": "gradient", "title": null, "format": "~g", "offset": 17, "gradientLength": 190, "gradientThickness": 32, "values": [0,0.1,0.2,0.3,0.4,0.5,0.6]}}
  }
},
{"width": 150, "height": 150, "data": {"name": "pad"}, "mark": {"type": "point", "opacity": 0}, "encoding": {}, "view": {"stroke": null}},
{
  "width": 180, "height": 190,
  "data": {"name": "a3"},
  "title": {"text": "Minima/Basin Size Similarity", "frame": "group", "anchor": "middle", "dx": 12, "offset": -3, "baseline": "alphabetic"},
  "mark": "rect",
  "encoding": {
    "x": {"field": "c", "type": "nominal", "scale": {"round": true}, "sort": ["LECN","rmFC","RECN","Visual","SM","BG","Attn","dMPFC","DMN","Salience"], "axis": {"labelAngle": -90, "title": null}},
    "y": {"field": "r", "type": "nominal", "scale": {"round": true}, "sort": ["LECN","rmFC","RECN","Visual","SM","BG","Attn","dMPFC","DMN","Salience"], "axis": {"title": null}},
    "color": {"field": "v", "type": "quantitative",
      "scale": {"zero": false, "domain": [-0.135,-0.000125,0.13475,0.269625,0.4045,0.539375,0.67425,0.809125,0.944], "range": ["#352A87","#0363E1","#1485D4","#06A7C6","#33B8A1","#87BF77","#D1BB59","#FEC832","#F9FB0E"]},
      "legend": {"type": "gradient", "title": "Correlation", "format": "~g", "titleOrient": "right", "titleAnchor": "middle", "titleFont": "Lato", "titleFontSize": 23, "titleFontWeight": "normal", "titleColor": "#111111", "titlePadding": 11, "offset": 11, "gradientLength": 190, "gradientThickness": 27, "values": [0,0.2,0.4,0.6,0.8]}}
  }
}
],
"bounds": "flush",
"spacing": 0,
"resolve": {"scale": {"color": "independent", "x": "independent", "y": "independent"}, "legend": {"color": "independent"}}
},
{
"hconcat": [
{
  "width": 180, "height": 190,
  "data": {"name": "b1"},
  "title": {"text": "B.", "anchor": "start", "frame": "group", "dx": -98, "offset": -18, "baseline": "alphabetic", "fontSize": 23, "fontWeight": "bold", "fontStyle": "italic", "font": "Liberation Sans"},
  "mark": "rect",
  "encoding": {
    "x": {"field": "s", "type": "ordinal", "scale": {"round": true}, "axis": {"values": [5,10,15], "labelAngle": 0, "labelPadding": 4, "title": "Local Minima States", "titleFontSize": 23, "titlePadding": 4}},
    "y": {"field": "r", "type": "nominal", "scale": {"round": true}, "sort": ["Attn","rmFC","RECN","Visual","SM","BG","DMN","Salience","LECN","dMPFC"], "axis": {"title": "ROIs", "titleAngle": 0, "titleX": -69, "titleY": 86, "titleAlign": "center", "titleBaseline": "middle", "titleFontSize": 24}},
    "color": {"field": "v", "type": "nominal", "scale": {"domain": [0,1], "range": ["#352A87","#F9FB0E"]}, "legend": null}
  }
},
{"width": 111, "height": 150, "data": {"name": "pad"}, "mark": {"type": "point", "opacity": 0}, "encoding": {}, "view": {"stroke": null}},
{
  "width": 180, "height": 190,
  "data": {"name": "b2"},
  "mark": "rect",
  "encoding": {
    "x": {"field": "s", "type": "ordinal", "scale": {"round": true}, "axis": {"values": [5,10,15], "labelAngle": 0, "labelPadding": 4, "title": "Local Minima States", "titleFontSize": 23, "titlePadding": 4}},
    "y": {"field": "r", "type": "nominal", "scale": {"round": true}, "sort": ["Attn","rmFC","RECN","Visual","SM","BG","DMN","Salience","LECN","dMPFC"], "axis": {"title": null}},
    "color": {"field": "v", "type": "quantitative",
      "scale": {"zero": false, "domain": [0,0.125,0.25,0.375,0.5,0.625,0.75,0.875,1], "range": ["#352A87","#0363E1","#1485D4","#06A7C6","#33B8A1","#87BF77","#D1BB59","#FEC832","#F9FB0E"]},
      "legend": {"type": "gradient", "title": null, "format": "~g", "offset": 9, "gradientLength": 190, "gradientThickness": 27, "values": [0,0.2,0.4,0.6,0.8,1]}}
  }
},
{"width": 150, "height": 150, "data": {"name": "pad"}, "mark": {"type": "point", "opacity": 0}, "encoding": {}, "view": {"stroke": null}},
{
  "width": 170, "height": 190,
  "data": {"name": "b3"},
  "mark": "rect",
  "encoding": {
    "x": {"field": "c", "type": "nominal", "scale": {"round": true}, "sort": ["Attn","rmFC","RECN","Visual","SM","BG","DMN","Salience","LECN","dMPFC"], "axis": {"labelAngle": -90, "title": null}},
    "y": {"field": "r", "type": "nominal", "scale": {"round": true}, "sort": ["Attn","rmFC","RECN","Visual","SM","BG","DMN","Salience","LECN","dMPFC"], "axis": {"title": null}},
    "color": {"field": "v", "type": "quantitative",
      "scale": {"zero": false, "domain": [-0.245,-0.090625,0.06375,0.218125,0.3725,0.526875,0.68125,0.835625,0.99], "range": ["#352A87","#0363E1","#1485D4","#06A7C6","#33B8A1","#87BF77","#D1BB59","#FEC832","#F9FB0E"]},
      "legend": {"type": "gradient", "title": "Correlation", "format": "~g", "titleOrient": "right", "titleAnchor": "middle", "titleFont": "Lato", "titleFontSize": 23, "titleFontWeight": "normal", "titleColor": "#111111", "titlePadding": 5, "offset": 13, "gradientLength": 190, "gradientThickness": 25, "values": [-0.2,0,0.2,0.4,0.6,0.8]}}
  }
}
],
"bounds": "flush",
"spacing": 0,
"resolve": {"scale": {"color": "independent", "x": "independent", "y": "independent"}, "legend": {"color": "independent"}}
}
]
}
